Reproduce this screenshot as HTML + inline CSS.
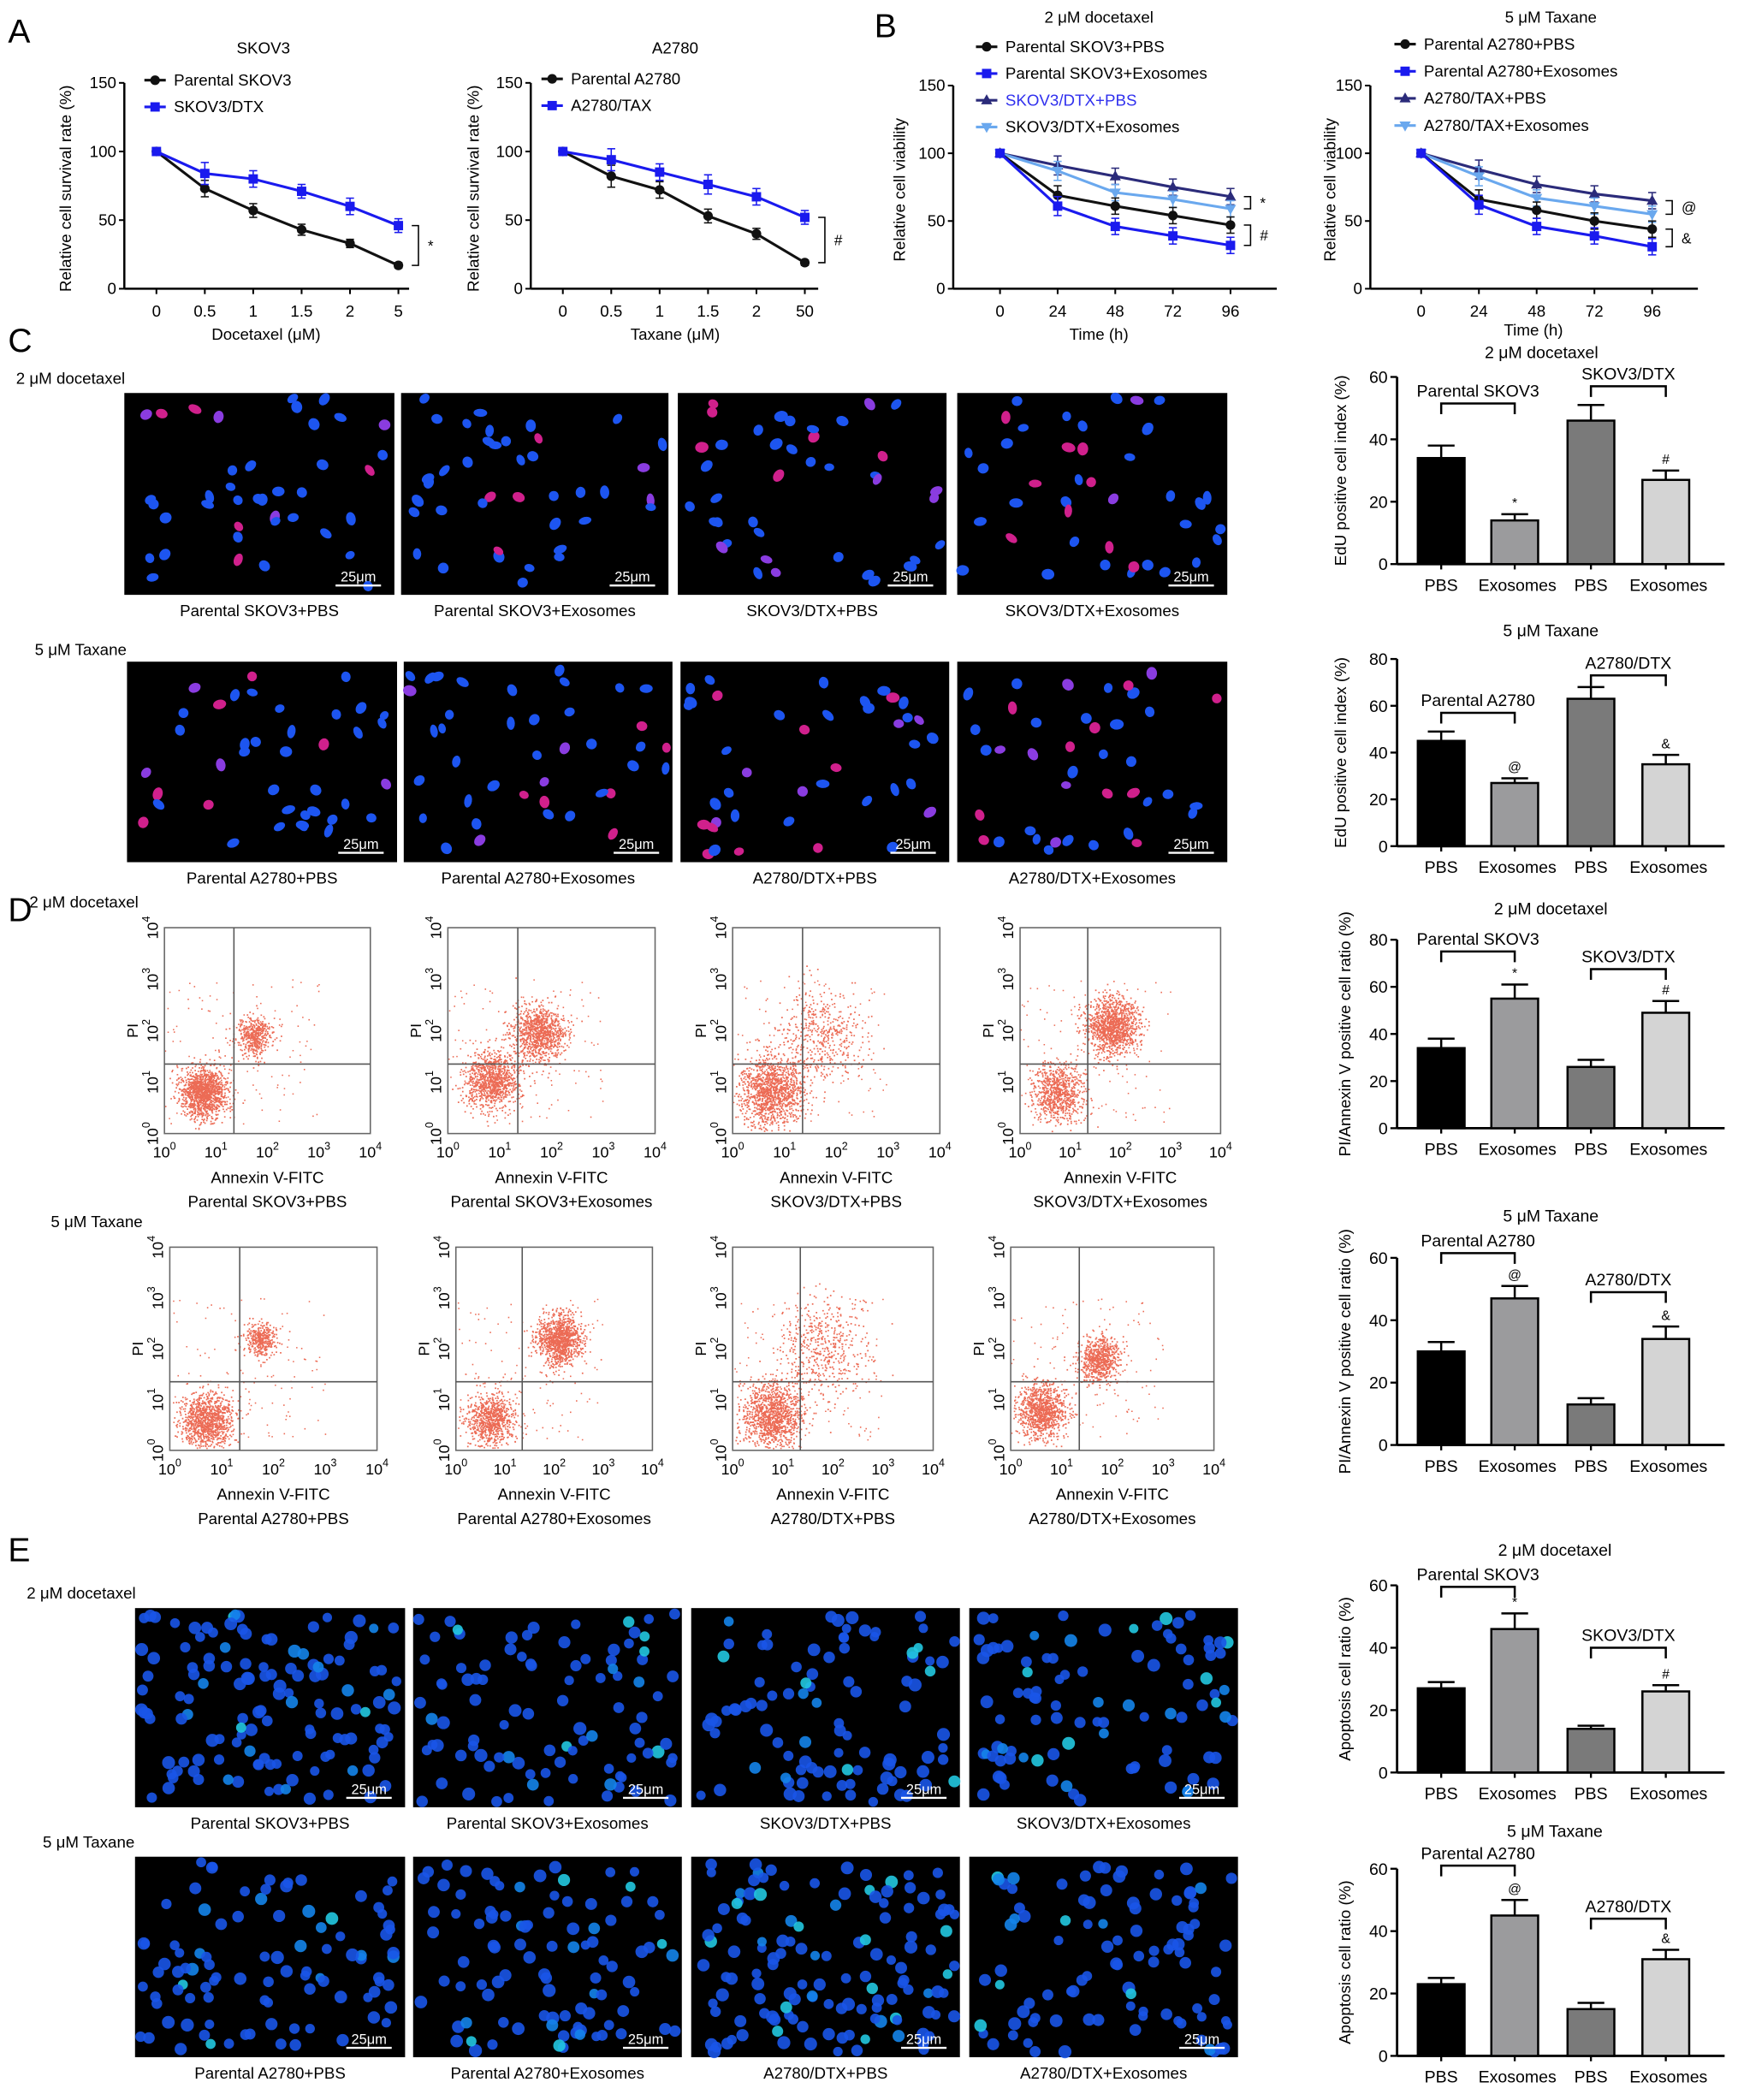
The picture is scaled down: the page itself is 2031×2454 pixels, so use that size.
<!DOCTYPE html>
<html><head><meta charset="utf-8"><title>Figure</title>
<style>
html,body{margin:0;padding:0;background:#fff;}
svg{display:block;font-family:"Liberation Sans",Arial,sans-serif;}
</style></head>
<body>
<svg id="fig" xmlns="http://www.w3.org/2000/svg" width="2031" height="2454" viewBox="0 0 1300 1571" preserveAspectRatio="none">
<rect x="0" y="0" width="1300" height="1571" fill="#fff"/>
<g font-size="25" fill="#000">
<text x="6" y="32">A</text>
<text x="654" y="28">B</text>
<text x="6" y="263">C</text>
<text x="6" y="689">D</text>
<text x="6" y="1168">E</text>
</g>
<g font-size="12" fill="#000">
<text x="12" y="287">2 μM docetaxel</text>
<text x="26" y="490">5 μM Taxane</text>
<text x="22" y="679">2 μM docetaxel</text>
<text x="38" y="918">5 μM Taxane</text>
<text x="20" y="1196">2 μM docetaxel</text>
<text x="32" y="1382">5 μM Taxane</text>
</g>
</svg>
<script>
// ===== Panel A data =====
const aLeftCats = ["0","0.5","1","1.5","2","5"];
const aLeftParental = [100,73,57,43,33,17];
const aLeftParentalErr = [2,6,5,4,3,2];
const aLeftResist = [100,84,80,71,60,46];
const aLeftResistErr = [2,8,6,5,6,5];
const aRightCats = ["0","0.5","1","1.5","2","50"];
const aRightParental = [100,82,72,53,40,19];
const aRightParentalErr = [2,8,6,5,4,2];
const aRightResist = [100,94,85,76,67,52];
const aRightResistErr = [2,8,6,7,6,5];
const aYTicks = [0,50,100,150];
// ===== Panel B data =====
const bCats = ["0","24","48","72","96"];
const bLeftParPBS = [100,69,61,54,47];
const bLeftParExo = [100,61,46,39,32];
const bLeftResPBS = [100,91,83,75,68];
const bLeftResExo = [100,87,71,66,59];
const bRightParPBS = [100,66,58,50,44];
const bRightParExo = [100,62,46,39,31];
const bRightResPBS = [100,88,77,70,65];
const bRightResExo = [100,83,67,61,55];
const bErr = [2,7,6,6,6];
// ===== Bar charts =====
const barCats = ["PBS","Exosomes","PBS","Exosomes"];
const c1Vals = [34,14,46,27]; const c1Err = [4,2,5,3];
const c2Vals = [45,27,63,35]; const c2Err = [4,2,5,4];
const d1Vals = [34,55,26,49]; const d1Err = [4,6,3,5];
const d2Vals = [30,47,13,34]; const d2Err = [3,4,2,4];
const e1Vals = [27,46,14,26]; const e1Err = [2,5,1,2];
const e2Vals = [23,45,15,31]; const e2Err = [2,5,2,3];
const ticks60 = [0,20,40,60];
const ticks80 = [0,20,40,60,80];

const NS="http://www.w3.org/2000/svg";
const svg=document.getElementById('fig');
function mk(tag,attrs,parent){const e=document.createElementNS(NS,tag);for(const k in attrs)e.setAttribute(k,attrs[k]);(parent||svg).appendChild(e);return e;}
function txt(parent,x,y,s,size,anchor,extra){const t=mk('text',Object.assign({x:x,y:y,'font-size':size||12,'text-anchor':anchor||'middle',fill:'#000'},extra||{}),parent);t.textContent=s;return t;}

function marker(g,shape,x,y,color){
  let m;
  if(shape==='circle')m=mk('circle',{cx:x,cy:y,r:3.6,fill:color},g);
  else if(shape==='square')m=mk('rect',{x:x-3.5,y:y-3.5,width:7,height:7,fill:color},g);
  else if(shape==='tri')m=mk('polygon',{points:`${x},${y-4.5} ${x-4.2},${y+3} ${x+4.2},${y+3}`,fill:color},g);
  else m=mk('polygon',{points:`${x},${y+4.5} ${x-4.2},${y-3} ${x+4.2},${y-3}`,fill:color},g);
  
  
}

function lineChart(o){
  const g=mk('g',{});
  
  
  const ys=v=>o.y0-(v/150)*(o.y0-o.yTop);
  const xs=i=>o.xFirst+i*o.xStep;
  mk('line',{x1:o.ax,y1:o.yTop,x2:o.ax,y2:o.y0,stroke:'#000','stroke-width':1.6},g);
  mk('line',{x1:o.ax,y1:o.y0,x2:o.axEnd,y2:o.y0,stroke:'#000','stroke-width':1.6},g);
  aYTicks.forEach(t=>{mk('line',{x1:o.ax-4,y1:ys(t),x2:o.ax,y2:ys(t),stroke:'#000','stroke-width':1.3},g);txt(g,o.ax-6,ys(t)+4,String(t),12,'end');});
  o.cats.forEach((c,i)=>{mk('line',{x1:xs(i),y1:o.y0,x2:xs(i),y2:o.y0+4,stroke:'#000','stroke-width':1.3},g);txt(g,xs(i),o.y0+21,c,12);});
  txt(g,o.titleX,o.titleY,o.title,12);
  txt(g,o.xlX,o.xlY,o.xlabel,12);
  txt(g,0,0,o.ylabel,12,'middle',{transform:`translate(${o.ylX},${(o.y0+o.yTop)/2+2}) rotate(-90)`});
  o.series.forEach(s=>{
    const sg=mk('g',{},g);
    
    
    mk('polyline',{points:s.vals.map((v,i)=>xs(i)+','+ys(v)).join(' '),fill:'none',stroke:s.color,'stroke-width':2},sg);
    s.vals.forEach((v,i)=>{const e=s.err[i];
      mk('line',{x1:xs(i),y1:ys(v+e),x2:xs(i),y2:ys(v-e),stroke:s.color,'stroke-width':1},sg);
      mk('line',{x1:xs(i)-3,y1:ys(v+e),x2:xs(i)+3,y2:ys(v+e),stroke:s.color,'stroke-width':1},sg);
      mk('line',{x1:xs(i)-3,y1:ys(v-e),x2:xs(i)+3,y2:ys(v-e),stroke:s.color,'stroke-width':1},sg);
      marker(sg,s.shape,xs(i),ys(v),s.color);});
  });
  o.legend.forEach((l,i)=>{
    const lg=mk('g',{},g);
    
    
    const y=o.legY+i*o.legStep;
    mk('line',{x1:o.legX,y1:y,x2:o.legX+16,y2:y,stroke:l.color,'stroke-width':2},lg);
    marker(lg,l.shape,o.legX+8,y,l.color);
    txt(lg,o.legX+22,y+4,l.label,12,'start',{fill:l.tcolor||'#000'});
  });
  (o.brackets||[]).forEach(b=>{
    const x=xs(o.cats.length-1)+10, y1=ys(b.a), y2=ys(b.b);
    mk('polyline',{points:`${x},${y1} ${x+5},${y1} ${x+5},${y2} ${x},${y2}`,fill:'none',stroke:'#000','stroke-width':1},g);
    txt(g,x+12,(y1+y2)/2+4,b.mark,11,'start');
  });
}

const BLK='#111',BLU='#1a1aee',NAV='#2b2b7a',LBL='#6aa8ee';
lineChart({name:'chart-a-skov3',ax:93,axEnd:306,y0:216,yTop:62,xFirst:117,xStep:36.2,cats:aLeftCats,title:'SKOV3',titleX:197,titleY:40,xlabel:'Docetaxel (μM)',xlX:199,xlY:254,ylabel:'Relative cell survival rate (%)',ylX:53,
 series:[{name:'series-parental-skov3',vals:aLeftParental,err:aLeftParentalErr,color:BLK,shape:'circle'},{name:'series-skov3-dtx',vals:aLeftResist,err:aLeftResistErr,color:BLU,shape:'square'}],
 legend:[{label:'Parental SKOV3',color:BLK,shape:'circle'},{label:'SKOV3/DTX',color:BLU,shape:'square'}],legX:108,legY:60,legStep:20,
 brackets:[{a:46,b:17,mark:'*'}]});
lineChart({name:'chart-a-a2780',ax:397,axEnd:612,y0:216,yTop:62,xFirst:421,xStep:36.2,cats:aRightCats,title:'A2780',titleX:505,titleY:40,xlabel:'Taxane (μM)',xlX:505,xlY:254,ylabel:'Relative cell survival rate (%)',ylX:358,
 series:[{name:'series-parental-a2780',vals:aRightParental,err:aRightParentalErr,color:BLK,shape:'circle'},{name:'series-a2780-tax',vals:aRightResist,err:aRightResistErr,color:BLU,shape:'square'}],
 legend:[{label:'Parental A2780',color:BLK,shape:'circle'},{label:'A2780/TAX',color:BLU,shape:'square'}],legX:405,legY:59,legStep:20,
 brackets:[{a:52,b:19,mark:'#'}]});
lineChart({name:'chart-b-docetaxel',ax:713,axEnd:955,y0:216,yTop:64,xFirst:748,xStep:43.1,cats:bCats,title:'2 μM docetaxel',titleX:822,titleY:17,xlabel:'Time (h)',xlX:822,xlY:254,ylabel:'Relative cell viability',ylX:677,
 series:[{name:'series-skov3-dtx-pbs',vals:bLeftResPBS,err:bErr,color:NAV,shape:'tri'},{name:'series-skov3-dtx-exo',vals:bLeftResExo,err:bErr,color:LBL,shape:'itri'},{name:'series-parental-skov3-pbs',vals:bLeftParPBS,err:bErr,color:BLK,shape:'circle'},{name:'series-parental-skov3-exo',vals:bLeftParExo,err:bErr,color:BLU,shape:'square'}],
 legend:[{label:'Parental SKOV3+PBS',color:BLK,shape:'circle'},{label:'Parental SKOV3+Exosomes',color:BLU,shape:'square'},{label:'SKOV3/DTX+PBS',color:NAV,shape:'tri',tcolor:'#3030ee'},{label:'SKOV3/DTX+Exosomes',color:LBL,shape:'itri'}],legX:730,legY:35,legStep:20,
 brackets:[{a:68,b:59,mark:'*'},{a:47,b:32,mark:'#'}]});
lineChart({name:'chart-b-taxane',ax:1025,axEnd:1270,y0:216,yTop:64,xFirst:1063,xStep:43.2,cats:bCats,title:'5 μM Taxane',titleX:1160,titleY:17,xlabel:'Time (h)',xlX:1147,xlY:251,ylabel:'Relative cell viability',ylX:999,
 series:[{name:'series-a2780-tax-pbs',vals:bRightResPBS,err:bErr,color:NAV,shape:'tri'},{name:'series-a2780-tax-exo',vals:bRightResExo,err:bErr,color:LBL,shape:'itri'},{name:'series-parental-a2780-pbs',vals:bRightParPBS,err:bErr,color:BLK,shape:'circle'},{name:'series-parental-a2780-exo',vals:bRightParExo,err:bErr,color:BLU,shape:'square'}],
 legend:[{label:'Parental A2780+PBS',color:BLK,shape:'circle'},{label:'Parental A2780+Exosomes',color:BLU,shape:'square'},{label:'A2780/TAX+PBS',color:NAV,shape:'tri'},{label:'A2780/TAX+Exosomes',color:LBL,shape:'itri'}],legX:1043,legY:33,legStep:20.3,
 brackets:[{a:65,b:55,mark:'@'},{a:44,b:31,mark:'&'}]});

// ===== bar charts =====
function barChart(o){
  const g=mk('g',{});
  
  
  const ax=1045, axEnd=1290;
  const ys=v=>o.y0-(v/o.max)*(o.y0-o.yTop);
  const offs=[33,88,145,201], bw=35;
  mk('line',{x1:ax,y1:o.yTop,x2:ax,y2:o.y0,stroke:'#000','stroke-width':1.8},g);
  mk('line',{x1:ax,y1:o.y0,x2:axEnd,y2:o.y0,stroke:'#000','stroke-width':1.8},g);
  o.ticks.forEach(t=>{mk('line',{x1:ax-5,y1:ys(t),x2:ax,y2:ys(t),stroke:'#000','stroke-width':1.5},g);txt(g,ax-7,ys(t)+4.5,String(t),12.5,'end');});
  const fills=['#000','#9b9b9d','#7a7a7a','#d4d4d4'];
  o.vals.forEach((v,i)=>{
    const cx=ax+offs[i], e=o.err[i];
    mk('line',{x1:cx,y1:ys(v),x2:cx,y2:ys(v+e),stroke:'#000','stroke-width':1.6},g);
    mk('line',{x1:cx-10,y1:ys(v+e),x2:cx+10,y2:ys(v+e),stroke:'#000','stroke-width':1.6},g);
    const r=mk('rect',{x:cx-bw/2,y:ys(v),width:bw,height:o.y0-ys(v),fill:fills[i],stroke:'#000','stroke-width':1.6},g);
    
    
    mk('line',{x1:cx,y1:o.y0,x2:cx,y2:o.y0+4,stroke:'#000','stroke-width':1.5},g);
    txt(g,cx+(i%2?2:0),o.y0+20,barCats[i],12.5);
    if(i%2===1)txt(g,cx,ys(v+e)-5,o.marks[i>>1],10);
  });
  o.groups.forEach((gr,k)=>{
    const x1=ax+offs[2*k], x2=ax+offs[2*k+1], y=ys(gr.at);
    mk('polyline',{points:`${x1},${y+8} ${x1},${y} ${x2},${y} ${x2},${y+8}`,fill:'none',stroke:'#000','stroke-width':1.6},g);
    txt(g,(x1+x2)/2,y-5,gr.label,12.5);
  });
  txt(g,o.titleX||1160,o.titleY,o.title,12.5);
  txt(g,0,0,o.ylabel,12,'middle',{transform:`translate(${o.ylX},${(o.y0+o.yTop)/2}) rotate(-90)`});
}
barChart({name:'chart-c-edu-docetaxel',y0:422,yTop:282,max:60,ticks:ticks60,vals:c1Vals,err:c1Err,marks:['*','#'],groups:[{label:'Parental SKOV3',at:51.5},{label:'SKOV3/DTX',at:57}],title:'2 μM docetaxel',titleX:1153,titleY:268,ylabel:'EdU positive cell index (%)',ylX:1007});
barChart({name:'chart-c-edu-taxane',y0:633,yTop:493,max:80,ticks:ticks80,vals:c2Vals,err:c2Err,marks:['@','&'],groups:[{label:'Parental A2780',at:57},{label:'A2780/DTX',at:73}],title:'5 μM Taxane',titleY:476,ylabel:'EdU positive cell index (%)',ylX:1007});
barChart({name:'chart-d-pi-docetaxel',y0:844,yTop:703,max:80,ticks:ticks80,vals:d1Vals,err:d1Err,marks:['*','#'],groups:[{label:'Parental SKOV3',at:75},{label:'SKOV3/DTX',at:67.5}],title:'2 μM docetaxel',titleY:684,ylabel:'PI/Annexin V positive cell ratio (%)',ylX:1010});
barChart({name:'chart-d-pi-taxane',y0:1081,yTop:941,max:60,ticks:ticks60,vals:d2Vals,err:d2Err,marks:['@','&'],groups:[{label:'Parental A2780',at:61.5},{label:'A2780/DTX',at:49}],title:'5 μM Taxane',titleY:914,ylabel:'PI/Annexin V positive cell ratio (%)',ylX:1010});
barChart({name:'chart-e-apoptosis-docetaxel',y0:1326,yTop:1186,max:60,ticks:ticks60,vals:e1Vals,err:e1Err,marks:['*','#'],groups:[{label:'Parental SKOV3',at:59.5},{label:'SKOV3/DTX',at:40}],title:'2 μM docetaxel',titleX:1163,titleY:1164,ylabel:'Apoptosis cell ratio (%)',ylX:1010});
barChart({name:'chart-e-apoptosis-taxane',y0:1538,yTop:1398,max:60,ticks:ticks60,vals:e2Vals,err:e2Err,marks:['@','&'],groups:[{label:'Parental A2780',at:61},{label:'A2780/DTX',at:44}],title:'5 μM Taxane',titleX:1163,titleY:1374,ylabel:'Apoptosis cell ratio (%)',ylX:1010});

// ===== microscopy images (texture) =====
function rng(seed){return function(){seed|=0;seed=seed+0x6D2B79F5|0;let t=Math.imul(seed^seed>>>15,1|seed);t=t+Math.imul(t^t>>>7,61|t)^t;return((t^t>>>14)>>>0)/4294967296;};}
function micro(name,x,y,w,h,label,seed,kind){
  const g=mk('g',{});
  
  
  mk('rect',{x:x,y:y,width:w,height:h,fill:'#000'},g);
  const R=rng(seed);
  const n=kind==='edu'?40:(seed%4===3?130:95);
  for(let i=0;i<n;i++){
    const cx=x+4+R()*(w-8), cy=y+4+R()*(h-8);
    let col;
    if(kind==='edu'){const r=R();col=r<0.68?'#1d55f0':(r<0.86?'#d0208c':'#8a3ce0');
      mk('ellipse',{cx:cx,cy:cy,rx:3.6+R()*1.6,ry:2.8+R()*1.3,fill:col,transform:`rotate(${R()*180} ${cx} ${cy})`},g);}
    else{const r=R();col=r<0.85?'#1a55e8':(r<0.94?'#1484ea':'#22c8e0');
      mk('circle',{cx:cx,cy:cy,r:3.5+R()*1.4,fill:col,opacity:0.9},g);}
  }
  mk('line',{x1:x+w-44,y1:y+h-7,x2:x+w-10,y2:y+h-7,stroke:'#fff','stroke-width':1.5},g);
  txt(g,x+w-27,y+h-10,'25μm',10.5,'middle',{fill:'#fff'});
  txt(g,x+w/2,y+h+16,label,12);
}
const cL1=['Parental SKOV3+PBS','Parental SKOV3+Exosomes','SKOV3/DTX+PBS','SKOV3/DTX+Exosomes'];
const cL2=['Parental A2780+PBS','Parental A2780+Exosomes','A2780/DTX+PBS','A2780/DTX+Exosomes'];
[[93,295],[300,500],[507,708],[716,918]].forEach((p,i)=>micro('edu-image-skov3-'+(i+1),p[0],294,p[1]-p[0],151,cL1[i],11+i,'edu'));
[[95,297],[302,503],[509,710],[716,918]].forEach((p,i)=>micro('edu-image-a2780-'+(i+1),p[0],495,p[1]-p[0],150,cL2[i],21+i,'edu'));
[[101,303],[309,510],[517,718],[725,926]].forEach((p,i)=>{micro('hoechst-image-skov3-'+(i+1),p[0],1203,p[1]-p[0],149,cL1[i],31+i,'h');micro('hoechst-image-a2780-'+(i+1),p[0],1389,p[1]-p[0],150,cL2[i],41+i,'h');});

// ===== flow cytometry plots =====
const flowClusters=[
 [[0.75,0.8,0.22,1300],[1.75,1.9,0.17,450]],
 [[0.85,1.05,0.25,1000],[1.75,1.95,0.25,1000]],
 [[0.75,0.8,0.32,1300],[1.7,1.9,0.4,450]],
 [[0.75,0.8,0.25,800],[1.85,2.1,0.25,1200]],
 [[0.7,0.6,0.25,1100],[1.75,2.2,0.15,350]],
 [[0.7,0.6,0.25,800],[2.1,2.2,0.22,1100]],
 [[0.8,0.7,0.3,1200],[1.8,2.0,0.45,500]],
 [[0.6,0.8,0.25,1000],[1.75,1.8,0.2,700]]];
function flow(name,x0,x1,y0,y1,label,idx){
  const g=mk('g',{});
  
  
  const w=x1-x0,h=y1-y0;
  const xs=v=>x0+v/4*w, ys=v=>y1-v/4*h;
  const R=rng(100+idx);
  const gauss=()=>{let u=R()||1e-6,v=R();return Math.sqrt(-2*Math.log(u))*Math.cos(2*Math.PI*v);};
  let d='';
  flowClusters[idx].forEach(c=>{for(let i=0;i<c[3];i++){const lx=c[0]+gauss()*c[2],ly=c[1]+gauss()*c[2]*1.1;if(lx<0.05||lx>3.95||ly<0.05||ly>3.95)continue;const px=xs(lx),py=ys(ly);d+=`M${px.toFixed(1)} ${py.toFixed(1)}h1.1v1.1h-1.1z`;}});
  for(let i=0;i<120;i++){d+=`M${(x0+R()*w*0.75).toFixed(1)} ${(y0+h*0.25+R()*h*0.7).toFixed(1)}h1v1h-1z`;}
  mk('path',{d:d,fill:'#e63a1c',opacity:0.75},g);
  mk('rect',{x:x0,y:y0,width:w,height:h,fill:'none',stroke:'#666','stroke-width':1},g);
  mk('line',{x1:xs(1.35),y1:y0,x2:xs(1.35),y2:y1,stroke:'#555','stroke-width':1},g);
  mk('line',{x1:x0,y1:ys(1.35),x2:x1,y2:ys(1.35),stroke:'#555','stroke-width':1},g);
  for(let k=0;k<=4;k++){
    const t=txt(g,xs(k),y1+18,'10',11.5);const s=mk('tspan',{dy:-6,'font-size':8},t);s.textContent=String(k);
    const t2=txt(g,0,0,'10',11.5,'middle',{transform:`translate(${x0-5},${ys(k)}) rotate(-90)`});const s2=mk('tspan',{dy:-6,'font-size':8},t2);s2.textContent=String(k);
  }
  txt(g,0,0,'PI',11.5,'middle',{transform:`translate(${x0-20},${(y0+y1)/2}) rotate(-90)`});
  txt(g,(x0+x1)/2,y1+37,'Annexin V-FITC',12);
  txt(g,(x0+x1)/2,y1+55,label,12);
}
[[123,277],[335,490],[548,703],[763,913]].forEach((p,i)=>flow('flow-plot-skov3-'+(i+1),p[0],p[1],694,848,cL1[i],i));
[[127,282],[341,488],[548,698],[756,908]].forEach((p,i)=>flow('flow-plot-a2780-'+(i+1),p[0],p[1],933,1085,cL2[i],4+i));
</script>
</body></html>
